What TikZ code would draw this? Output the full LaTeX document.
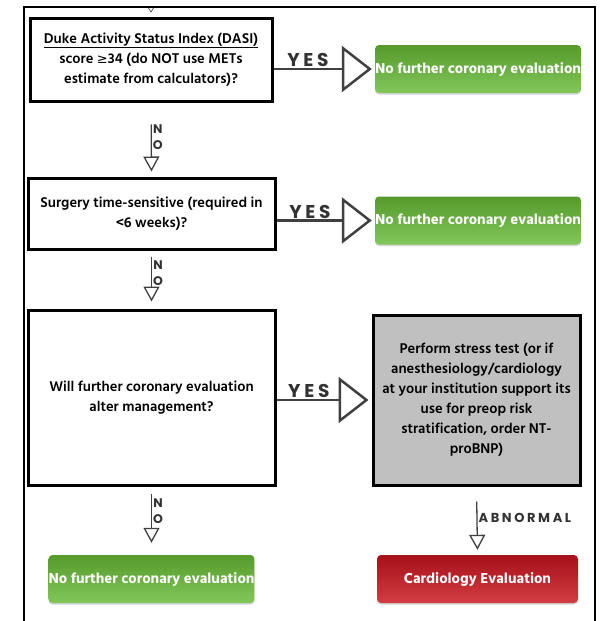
\documentclass[tikz,border=0pt]{standalone}
\usepackage{fontspec}
\setmainfont{Hind Siliguri}[UprightFont=* SemiBold, BoldFont=* Bold]
\newfontfamily\lblfont{Poppins}[LetterSpace=20]
\newfontfamily\symfont{DejaVu Sans}
\usetikzlibrary{arrows.meta,shadows}
\definecolor{arrowgray}{RGB}{64,64,64}
\definecolor{boxgray}{RGB}{192,192,192}
\definecolor{greentop}{RGB}{86,154,44}
\definecolor{greenbot}{RGB}{130,199,90}
\definecolor{redtop}{RGB}{166,16,24}
\definecolor{redbot}{RGB}{210,62,68}

\begin{document}
\begin{tikzpicture}[x=1pt,y=-1pt]
    \tikzset{question/.style = {draw, line width=3pt, fill=white, align=center, font=\fontsize{14.5}{20}\selectfont, inner sep=0pt}}
    \tikzset{outcome/.style = {rounded corners=4pt, text=white, font=\bfseries\fontsize{14.8}{18}\selectfont, minimum width=204pt, minimum height=48pt, inner sep=0pt, drop shadow={opacity=0.35, shadow xshift=0pt, shadow yshift=-1.5pt}}}
    \tikzset{yesarrow/.style = {draw=arrowgray, line width=2.5pt, -{Triangle[open, length=30pt, width=46pt]}}}
    \tikzset{noarrow/.style = {draw=arrowgray, line width=1.3pt, -{Triangle[open, length=15pt, width=16pt]}}}
    \tikzset{yeslbl/.style = {font=\lblfont\bfseries\fontsize{18.5}{18}\selectfont, text=arrowgray!80!black, inner sep=1pt}}
    \tikzset{nolbl/.style = {font=\lblfont\bfseries\fontsize{12.5}{16.5}\selectfont, text=arrowgray!80!black, inner sep=1pt, align=center}}

    \useasboundingbox (0,0) rectangle (600,621);

    % frame
    \draw[line width=1.5pt] (24,621) -- (24,7) -- (595,7) -- (595,621);
    \draw[arrowgray, line width=0.6pt] (148.5,8) -- (151,12) -- (153.5,8);

    % questions
    \node[question, minimum width=242pt, minimum height=83pt, drop shadow={opacity=0.3, shadow xshift=1.5pt, shadow yshift=-1.5pt}] (q1) at (151,59.5)
        {\underline{Duke Activity Status Index (DASI)}\\score {\symfont\fontsize{13}{20}\selectfont ≥}34 (do NOT use METs\\estimate from calculators)?};
    \node[question, minimum width=247pt, minimum height=71pt] (q2) at (151.5,213.5)
        {Surgery time-sensitive (required in\\<6 weeks)?};
    \node[question, minimum width=247pt, minimum height=175pt] (q3) at (151.5,397.5)
        {Will further coronary evaluation\\alter management?};

    % outcomes
    \node[outcome, top color=greentop, bottom color=greenbot] (a1) at (478,69) {No further coronary evaluation};
    \node[outcome, top color=greentop, bottom color=greenbot] (a2) at (478,220.5) {No further coronary evaluation};
    \node[outcome, top color=greentop, bottom color=greenbot] (a3) at (151.5,579) {No further coronary evaluation};
    \node[question, fill=boxgray, minimum width=207pt, minimum height=170pt] (test) at (476.5,400)
        {Perform stress test (or if\\anesthesiology/cardiology\\at your institution support its\\use for preop risk\\stratification, order NT-\\proBNP)};
    \node[outcome, top color=redtop, bottom color=redbot, minimum width=201pt] (cardio) at (477.5,579) {Cardiology Evaluation};

    % arrows
    \draw[yesarrow, shorten >=3pt] (q1.east |- a1.west) -- node[pos=0.34, above, yeslbl]{YES} (a1.west);
    \draw[yesarrow, shorten >=3pt] (q2.east |- a2.west) -- node[pos=0.34, above, yeslbl]{YES} (a2.west);
    \draw[yesarrow, shorten >=3pt] (q3.east |- test.west) -- node[pos=0.34, above, yeslbl]{YES} (test.west);
    \draw[noarrow, shorten <=22pt, shorten >=5pt] (q1.south) -- node[pos=0.47, right, nolbl]{N\\O} (q2.north);
    \draw[noarrow, shorten <=6pt, shorten >=7pt] (q2.south) -- node[pos=0.39, right, nolbl]{N\\O} (q3.north);
    \draw[noarrow, shorten <=7pt, shorten >=12pt] (q3.south) -- node[pos=0.36, right, nolbl]{N\\O} (a3.north);
    \draw[noarrow, shorten <=15pt, shorten >=5pt] (test.south) -- node[pos=0.46, right, nolbl, font=\lblfont\bfseries\fontsize{13}{14}\selectfont]{ABNORMAL} (cardio.north);

\end{tikzpicture}
\end{document}
